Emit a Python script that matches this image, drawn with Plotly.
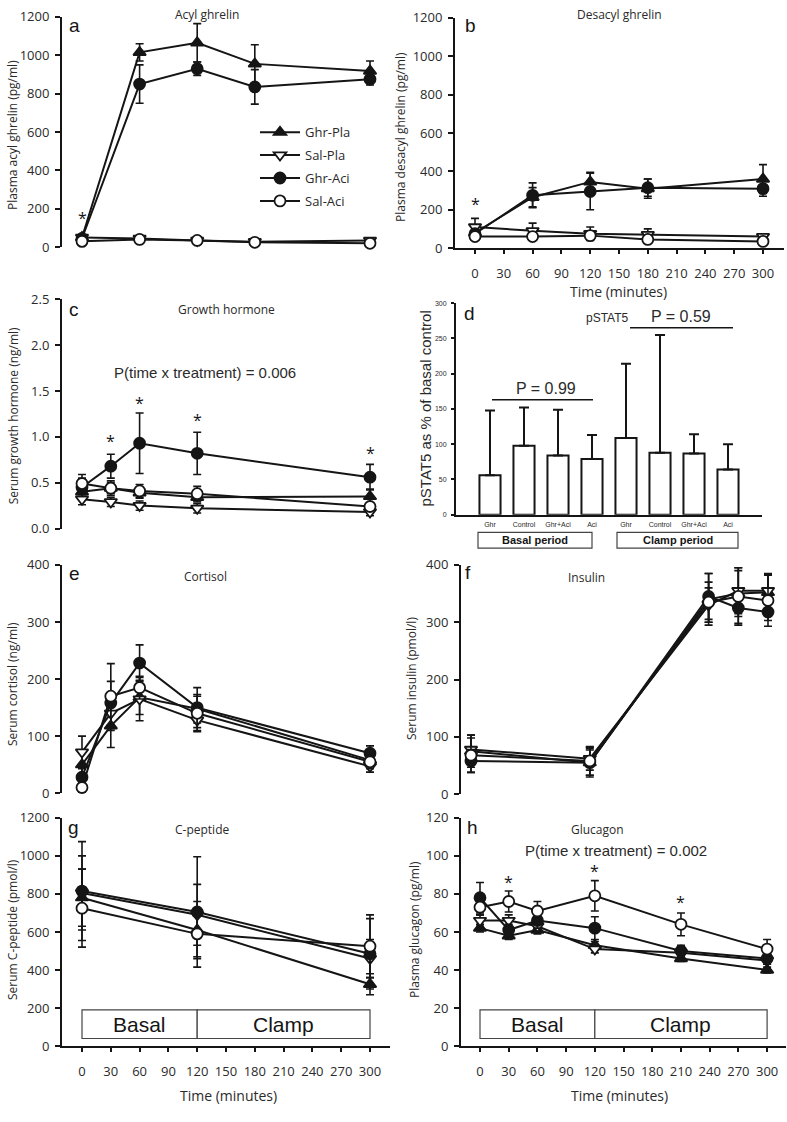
import plotly.graph_objects as go

W, H = 787, 1122
BLACK = "#151515"
TXT = "#2a2a2a"
FONT = "Open Sans"
ARIAL = "Liberation Sans"

series_names = ["Ghr-Pla", "Sal-Pla", "Ghr-Aci", "Sal-Aci"]

# ---- a: acyl ghrelin ----
acyl_time = [0, 60, 120, 180, 300]
acyl_ghr_pla = [50, 1015, 1065, 955, 918]
acyl_ghr_pla_err = [10, 45, 100, 100, 52]
acyl_sal_pla = [50, 45, 35, 28, 35]
acyl_sal_pla_err = [8, 8, 8, 5, 5]
acyl_ghr_aci = [45, 850, 930, 835, 875]
acyl_ghr_aci_err = [8, 100, 35, 90, 30]
acyl_sal_aci = [30, 40, 35, 25, 20]
acyl_sal_aci_err = [5, 8, 5, 5, 5]
acyl_stars = [(0, 150)]

# ---- b: desacyl ghrelin ----
desacyl_time = [0, 60, 120, 180, 300]
desacyl_ghr_pla = [80, 265, 345, 310, 360]
desacyl_ghr_pla_err = [20, 50, 50, 50, 75]
desacyl_sal_pla = [110, 90, 75, 70, 60]
desacyl_sal_pla_err = [45, 40, 35, 30, 15]
desacyl_ghr_aci = [75, 275, 295, 315, 310]
desacyl_ghr_aci_err = [20, 65, 95, 45, 40]
desacyl_sal_aci = [60, 60, 65, 45, 35]
desacyl_sal_aci_err = [15, 15, 15, 15, 10]
desacyl_stars = [(0, 230)]

# ---- c: growth hormone ----
gh_time = [0, 30, 60, 120, 300]
gh_ghr_pla = [0.40, 0.44, 0.39, 0.34, 0.35]
gh_ghr_pla_err = [0.05, 0.08, 0.06, 0.05, 0.08]
gh_sal_pla = [0.32, 0.29, 0.25, 0.22, 0.18]
gh_sal_pla_err = [0.06, 0.05, 0.05, 0.05, 0.04]
gh_ghr_aci = [0.45, 0.68, 0.93, 0.82, 0.56]
gh_ghr_aci_err = [0.10, 0.13, 0.33, 0.23, 0.14]
gh_sal_aci = [0.49, 0.44, 0.41, 0.38, 0.24]
gh_sal_aci_err = [0.10, 0.06, 0.07, 0.08, 0.04]
gh_stars = [(30, 0.95), (60, 1.37), (120, 1.18), (300, 0.82)]

# ---- d: pSTAT5 ----
pstat_labels = ["Ghr", "Control", "Ghr+Aci", "Aci", "Ghr", "Control", "Ghr+Aci", "Aci"]
pstat_values = [56, 98, 84, 79, 109, 88, 87, 64]
pstat_upper = [148, 152, 149, 113, 214, 255, 114, 100]
pstat_periods = ["Basal period", "Clamp period"]

# ---- e: cortisol ----
cort_time = [0, 30, 60, 120, 300]
cort_ghr_pla = [50, 118, 168, 148, 58]
cort_ghr_pla_err = [25, 38, 30, 25, 12]
cort_sal_pla = [72, 140, 165, 128, 47]
cort_sal_pla_err = [28, 30, 38, 20, 10]
cort_ghr_aci = [28, 158, 228, 150, 70]
cort_ghr_aci_err = [15, 38, 32, 35, 13]
cort_sal_aci = [10, 170, 185, 140, 55]
cort_sal_aci_err = [8, 57, 20, 30, 12]

# ---- f: insulin ----
ins_time = [0, 120, 240, 270, 300]
ins_ghr_pla = [75, 55, 340, 350, 352]
ins_ghr_pla_err = [28, 25, 45, 40, 30]
ins_sal_pla = [78, 62, 330, 355, 355]
ins_sal_pla_err = [25, 20, 30, 40, 30]
ins_ghr_aci = [58, 55, 345, 325, 318]
ins_ghr_aci_err = [20, 22, 40, 27, 15]
ins_sal_aci = [68, 58, 335, 345, 338]
ins_sal_aci_err = [30, 25, 35, 50, 45]

# ---- g: C-peptide ----
cpep_time = [0, 120, 300]
cpep_ghr_pla = [780, 610, 325]
cpep_ghr_pla_err = [150, 150, 55]
cpep_sal_pla = [805, 690, 460]
cpep_sal_pla_err = [195, 160, 100]
cpep_ghr_aci = [815, 705, 485]
cpep_ghr_aci_err = [260, 290, 185]
cpep_sal_aci = [725, 590, 525]
cpep_sal_aci_err = [205, 120, 165]

# ---- h: glucagon ----
gluc_time = [0, 30, 60, 120, 210, 300]
gluc_ghr_pla = [62, 58, 61, 53, 46, 40]
gluc_ghr_pla_err = [2, 2, 2, 2, 1.5, 1.5]
gluc_sal_pla = [66, 66, 63, 51, 49, 45]
gluc_sal_pla_err = [3, 3, 3, 2, 2, 2]
gluc_ghr_aci = [78, 61, 66, 62, 50, 46]
gluc_ghr_aci_err = [8, 3, 4, 6, 3, 3]
gluc_sal_aci = [73, 76, 71, 79, 64, 51]
gluc_sal_aci_err = [4, 5.5, 5, 8, 6, 5]
gluc_stars = [(30, 86), (120, 92), (210, 76)]

time_ticks = list(range(0, 301, 30))
periods = [("Basal", 0, 120), ("Clamp", 120, 300)]


def px(p):
    return p / W


def py(p):
    return 1 - p / H


marker_style = {
    "Ghr-Pla": dict(symbol="triangle-up", color=BLACK, size=11),
    "Sal-Pla": dict(symbol="triangle-down", color="white", size=11),
    "Ghr-Aci": dict(symbol="circle", color=BLACK, size=11),
    "Sal-Aci": dict(symbol="circle", color="white", size=11),
}

fig = go.Figure()


def add_panel(ax, t, series, legend=False):
    for name, (vals, errs) in zip(series_names, series):
        ms = marker_style[name]
        fig.add_trace(go.Scatter(
            x=t, y=vals, mode="lines+markers", name=name,
            legendgroup=name, showlegend=legend,
            line=dict(color=BLACK, width=2),
            marker=dict(symbol=ms["symbol"], size=ms["size"], color=ms["color"],
                        line=dict(color=BLACK, width=1.8)),
            error_y=dict(type="data", array=errs, visible=True, color=BLACK,
                         thickness=1.6, width=4),
            xaxis="x" + ax, yaxis="y" + ax, cliponaxis=False,
        ))


add_panel("", acyl_time, [(acyl_ghr_pla, acyl_ghr_pla_err), (acyl_sal_pla, acyl_sal_pla_err),
                          (acyl_ghr_aci, acyl_ghr_aci_err), (acyl_sal_aci, acyl_sal_aci_err)], legend=True)
add_panel("2", desacyl_time, [(desacyl_ghr_pla, desacyl_ghr_pla_err), (desacyl_sal_pla, desacyl_sal_pla_err),
                              (desacyl_ghr_aci, desacyl_ghr_aci_err), (desacyl_sal_aci, desacyl_sal_aci_err)])
add_panel("3", gh_time, [(gh_ghr_pla, gh_ghr_pla_err), (gh_sal_pla, gh_sal_pla_err),
                         (gh_ghr_aci, gh_ghr_aci_err), (gh_sal_aci, gh_sal_aci_err)])
add_panel("5", cort_time, [(cort_ghr_pla, cort_ghr_pla_err), (cort_sal_pla, cort_sal_pla_err),
                           (cort_ghr_aci, cort_ghr_aci_err), (cort_sal_aci, cort_sal_aci_err)])
add_panel("6", ins_time, [(ins_ghr_pla, ins_ghr_pla_err), (ins_sal_pla, ins_sal_pla_err),
                          (ins_ghr_aci, ins_ghr_aci_err), (ins_sal_aci, ins_sal_aci_err)])
add_panel("7", cpep_time, [(cpep_ghr_pla, cpep_ghr_pla_err), (cpep_sal_pla, cpep_sal_pla_err),
                           (cpep_ghr_aci, cpep_ghr_aci_err), (cpep_sal_aci, cpep_sal_aci_err)])
add_panel("8", gluc_time, [(gluc_ghr_pla, gluc_ghr_pla_err), (gluc_sal_pla, gluc_sal_pla_err),
                           (gluc_ghr_aci, gluc_ghr_aci_err), (gluc_sal_aci, gluc_sal_aci_err)])

# ---- d bars ----
bar_pos = list(range(1, len(pstat_values) + 1))
fig.add_trace(go.Bar(
    x=bar_pos, y=pstat_values, width=0.62, showlegend=False,
    marker=dict(color="white", line=dict(color=BLACK, width=2)),
    error_y=dict(type="data", symmetric=False,
                 array=[u - v for u, v in zip(pstat_upper, pstat_values)],
                 arrayminus=[0] * len(pstat_values), color=BLACK, thickness=2, width=5),
    xaxis="x4", yaxis="y4", cliponaxis=False,
))


# ---- axes ----
def yaxis(top, bottom, rng, dtick, fmt=None, size=13, ticklen=5):
    d = dict(domain=[py(bottom), py(top)], range=rng, dtick=dtick, tick0=0,
             showline=True, linewidth=2, linecolor=BLACK, ticks="outside",
             ticklen=ticklen, tickwidth=1.5, tickcolor=BLACK, showgrid=False,
             zeroline=False, fixedrange=True, ticklabeloverflow="allow",
             tickfont=dict(family=FONT, size=size, color=TXT), ticklabelstandoff=3)
    if fmt:
        d["tickformat"] = fmt
    return d


def xaxis(left, right, zero_px, px_per_min, visible, anchor):
    lo = -(zero_px - left) / px_per_min
    hi = (right - zero_px) / px_per_min
    d = dict(domain=[px(left), px(right)], range=[lo, hi], anchor=anchor,
             showgrid=False, zeroline=False, fixedrange=True)
    if visible:
        d.update(showline=True, linewidth=2, linecolor=BLACK, ticks="outside",
                 ticklen=4, tickwidth=1.5, tickcolor=BLACK, tickvals=time_ticks,
                 tickfont=dict(family=FONT, size=13, color=TXT), ticklabelstandoff=8,
                 ticklabeloverflow="allow")
    else:
        d.update(visible=False)
    return d


layout_axes = dict(
    xaxis=xaxis(62, 390, 82, 0.96, False, "y"),
    yaxis=yaxis(8, 242, [0, 1200], 200) | dict(anchor="x"),
    xaxis2=xaxis(455, 784, 475, 0.96, True, "y2"),
    yaxis2=yaxis(9, 243, [0, 1200], 200) | dict(anchor="x2"),
    xaxis3=xaxis(62, 390, 82, 0.96, False, "y3"),
    yaxis3=yaxis(295, 528, [0, 2.5], 0.5, ".1f") | dict(anchor="x3"),
    xaxis4=dict(domain=[px(456), px(762)], range=[0, 9], anchor="y4", showline=True,
                linewidth=2, linecolor=BLACK, ticks="", tickvals=bar_pos, ticktext=pstat_labels,
                tickfont=dict(family=ARIAL, size=7, color=TXT), ticklabelstandoff=2,
                showgrid=False, zeroline=False, fixedrange=True),
    yaxis4=yaxis(299, 514, [0, 300], 50, size=7, ticklen=3) | dict(anchor="x4", tickfont=dict(family=ARIAL, size=7, color=TXT)),
    xaxis5=xaxis(62, 390, 82, 0.96, False, "y5"),
    yaxis5=yaxis(565, 797, [0, 400], 100) | dict(anchor="x5"),
    xaxis6=xaxis(461, 786, 471, 0.99, False, "y6"),
    yaxis6=yaxis(565, 798, [0, 400], 100) | dict(anchor="x6"),
    xaxis7=xaxis(62, 390, 82, 0.96, True, "y7"),
    yaxis7=yaxis(822, 1054, [0, 1200], 200) | dict(anchor="x7"),
    xaxis8=xaxis(461, 786, 480, 0.957, True, "y8"),
    yaxis8=yaxis(822, 1054, [0, 120], 20) | dict(anchor="x8"),
)

ann = []
shapes = []


def text(x, y, s, size=12, family=FONT, xanchor="center", angle=0, color=TXT):
    ann.append(dict(x=px(x), y=py(y), xref="paper", yref="paper", text=s, showarrow=False,
                    xanchor=xanchor, yanchor="middle", textangle=angle,
                    font=dict(family=family, size=size, color=color)))


# titles
text(207, 6, "Acyl ghrelin")
text(619, 6, "Desacyl ghrelin")
text(226, 305, "Growth hormone")
text(205, 577, "Cortisol")
text(586, 578, "Insulin")
text(202, 834, "C-peptide")
text(597, 834, "Glucagon")

# y titles
text(13, 128, "Plasma acyl ghrelin (pg/ml)", angle=-90)
text(401, 130, "Plasma desacyl ghrelin (pg/ml)", angle=-90)
text(13, 414, "Serum growth hormone (ng/ml)", angle=-90)
text(425, 406, "pSTAT5 as % of basal control", size=15, family=ARIAL, angle=-90)
text(13, 686, "Serum cortisol (ng/ml)", angle=-90)
text(411, 681, "Serum insulin (pmol/l)", angle=-90)
text(13, 936, "Serum C-peptide (pmol/l)", angle=-90)
text(415, 936, "Plasma glucagon (pg/ml)", angle=-90)

# time labels
text(618, 287, "Time (minutes)", size=14)
text(228, 1104, "Time (minutes)", size=14)
text(619, 1104, "Time (minutes)", size=14)

# panel letters
for L, x, y in [("a", 67, 17), ("b", 463, 17), ("c", 67, 305), ("d", 462, 309),
                ("e", 67, 574), ("f", 463, 573), ("g", 66, 832), ("h", 465, 832)]:
    text(x, y, L, size=19, family=ARIAL, xanchor="left", color=BLACK)

# P texts
text(205, 369, "P(time x treatment) = 0.006", size=15, family=ARIAL)
text(616, 855, "P(time x treatment) = 0.002", size=15, family=ARIAL)

# stars
for axn, stars in [("", acyl_stars), ("2", desacyl_stars), ("3", gh_stars), ("8", gluc_stars)]:
    for (sx, sy) in stars:
        ann.append(dict(x=sx, y=sy, xref="x" + axn, yref="y" + axn, text="*", showarrow=False,
                        yanchor="middle", font=dict(family=FONT, size=16, color=BLACK)))

# period boxes in g and h
for axn, ylo, yhi in [("7", 40, 190), ("8", 4, 19)]:
    for label, t0, t1 in periods:
        shapes.append(dict(type="rect", xref="x" + axn, yref="y" + axn, x0=t0, x1=t1, y0=ylo, y1=yhi,
                           line=dict(color="#444", width=1.2), fillcolor="white"))
        ann.append(dict(x=(t0 + t1) / 2, y=(ylo + yhi) / 2, xref="x" + axn, yref="y" + axn,
                        text=label, showarrow=False, yanchor="middle",
                        font=dict(family=ARIAL, size=21, color=BLACK)))

# d: period boxes and P lines
for label, x0, x1 in zip(pstat_periods, [478, 617], [592, 738]):
    shapes.append(dict(type="rect", xref="paper", yref="paper", x0=px(x0), x1=px(x1),
                       y0=py(548), y1=py(532), line=dict(color="#444", width=1.2)))
    text((x0 + x1) / 2, 540, "<b>" + label + "</b>", size=11, family=ARIAL, color=BLACK)

shapes.append(dict(type="line", xref="paper", yref="paper", x0=px(492), x1=px(593),
                   y0=py(397), y1=py(397), line=dict(color=BLACK, width=1.5)))
shapes.append(dict(type="line", xref="paper", yref="paper", x0=px(630), x1=px(733),
                   y0=py(324), y1=py(324), line=dict(color=BLACK, width=1.5)))
text(546, 386, "P = 0.99", size=16, family=ARIAL)
text(607, 314, "pSTAT5", size=12, family=ARIAL)
text(681, 313, "P = 0.59", size=16, family=ARIAL)

fig.update_layout(
    width=W, height=H, margin=dict(l=0, r=0, t=0, b=0),
    paper_bgcolor="white", plot_bgcolor="rgba(0,0,0,0)",
    showlegend=True,
    legend=dict(x=px(255), y=py(110), xanchor="left", yanchor="top",
                bgcolor="rgba(0,0,0,0)", font=dict(family=FONT, size=13, color=TXT),
                itemwidth=40, traceorder="grouped", tracegroupgap=3),
    annotations=ann, shapes=shapes,
    **layout_axes,
)

fig.write_html("out.html", config={"displayModeBar": False},
               post_script="document.body.style.margin='0px';")
